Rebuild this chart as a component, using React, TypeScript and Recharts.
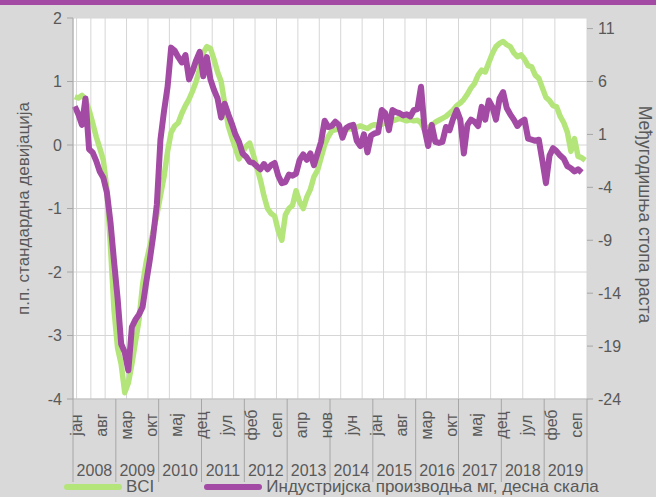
import React from 'react';
import { LineChart, Line, XAxis, YAxis, CartesianGrid, Legend } from 'recharts';

const YEARS = ['2008', '2009', '2010', '2011', '2012', '2013', '2014', '2015', '2016', '2017', '2018', '2019'];
const MONTH_NAMES = ['јан', 'феб', 'мар', 'апр', 'мај', 'јун', 'јул', 'авг', 'сеп', 'окт', 'нов', 'дец'];

// BCI, standard deviations (left axis), Jan 2008 - Dec 2019
const BCI = [
    0.76, 0.74, 0.78, 0.72, 0.55, 0.35, 0.13, -0.05, -0.24, -0.7, -1.6, -2.6,
    -3.2, -3.45, -3.9, -3.75, -3.45, -3.1, -2.75, -2.2, -1.85, -1.6, -1.35, -1.1,
    -0.8, -0.5, -0.1, 0.2, 0.3, 0.35, 0.5, 0.62, 0.72, 0.85, 1.0, 1.2,
    1.45, 1.55, 1.52, 1.35, 1.15, 1.0, 0.65, 0.3, 0.12, -0.05, -0.22, -0.12,
    -0.02, 0.03, -0.15, -0.35, -0.55, -0.8, -1.0, -1.08, -1.12, -1.35, -1.5, -1.1,
    -1.0, -0.95, -0.72, -0.9, -1.0, -0.82, -0.7, -0.5, -0.4, -0.2, 0.0, 0.13,
    0.22, 0.24, 0.25, 0.22, 0.24, 0.26, 0.24, 0.28, 0.3, 0.28, 0.26, 0.3,
    0.32, 0.3, 0.33, 0.35, 0.32, 0.38, 0.4, 0.42, 0.4, 0.38, 0.4, 0.38,
    0.39, 0.35, 0.24, 0.28, 0.3, 0.36, 0.39, 0.42, 0.45, 0.5, 0.55, 0.62,
    0.66, 0.72, 0.8, 0.9, 0.97, 1.1, 1.18, 1.15, 1.3, 1.44, 1.55, 1.6,
    1.63, 1.58, 1.55, 1.45, 1.39, 1.42, 1.35, 1.25, 1.23, 1.1, 1.05, 0.9,
    0.75, 0.7, 0.62, 0.6, 0.45, 0.35, 0.2, -0.1, 0.1, -0.18, -0.2, -0.24,
];

// industrial production y-o-y % (right axis), Jan 2008 - Nov 2019
const IP = [
    3.65, 2.9, 1.9, 4.4, -0.4, -0.7, -1.5, -2.5, -3.1, -4.5, -7.3, -11,
    -14.5, -18.8, -19.6, -21.3, -17.2, -16.5, -16.0, -15.3, -13, -10.9, -8.5, -5.6,
    0.5, 3.2, 5.5, 9.2, 8.9, 8.3, 7.8, 8.5, 6.2, 7.0, 8.0, 8.8,
    6.5, 8.3, 6.2, 5.2, 4.4, 2.6, 3.9, 2.9, 2.0, 1.0, 0.3, -0.8,
    -1.1, -1.6, -1.7, -2.0, -2.3, -1.8, -2.3, -1.9, -1.7, -2.9, -3.6, -3.5,
    -2.8, -2.9, -2.7, -1.4, -0.9, -1.4, -0.8, -1.9, -0.8, 0.3, 2.3, 1.7,
    1.8, 2.2, 1.9, 0.7, 1.6, 1.8, 1.9, 0.4, -0.1, 1.0, -0.7, 0.9,
    1.1, 1.2, 3.3, 3.0, 1.4, 3.3, 3.1, 3.0, 2.8, 2.9, 2.7, 3.3,
    3.4, 5.5, 1.5, -0.1, 1.9, 0.3, 0.2, 0.3, 1.7, 1.4, 2.5, 3.3,
    2.4, -0.8, 1.9, 2.4, 2.2, 1.8, 3.6, 2.4, 4.2, 3.6, 2.4, 4.4,
    5.0, 3.5, 2.9, 2.4, 1.8, 2.2, 2.4, 0.6, 0.5, 0.4, 0.5, -1.5,
    -3.6, -1.0, -0.3, -0.6, -1.0, -1.3, -2.0, -2.2, -2.5, -2.3, -2.6,
];

const LEFT_TICKS = [-4, -3, -2, -1, 0, 1, 2];
const RIGHT_TICKS = [-24, -19, -14, -9, -4, 1, 6, 11];

const TOTAL = YEARS.length * 12;
const data = BCI.map((v, i) => ({ t: i + 0.5, bci: v, ip: i < IP.length ? IP[i] : null }));

const gridTicks = Array.from({ length: TOTAL + 1 }, (_, i) => i);
const yearBounds = YEARS.map((_, i) => i * 12).concat(TOTAL);
const yearMids = YEARS.map((_, i) => i * 12 + 6);
const monthLabelTicks: number[] = [];
for (let i = 0; i < TOTAL; i += 7) monthLabelTicks.push(i + 0.5);
const xTicks = [...yearBounds, ...yearMids, ...monthLabelTicks];

const FONT = '"Liberation Sans", Arial, sans-serif';
const TEXT = '#595959';
const GREEN = '#b4e57a';
const PURPLE = '#a24aa4';

const XTick = (props: any) => {
    const { x, y, payload } = props;
    const v = payload.value;
    if (v % 12 === 0) {
        return <line x1={x} x2={x} y1={y} y2={y + 83} stroke="#a6a6a6" />;
    }
    if (v % 12 === 6) {
        return (
            <text x={x} y={y + 77} textAnchor="middle" fill={TEXT} fontSize={16} fontFamily={FONT}>
                {YEARS[Math.floor(v / 12)]}
            </text>
        );
    }
    const m = Math.floor(v) % 12;
    const cx = x + 2;
    const cy = y + 26;
    return (
        <text x={cx} y={cy} transform={`rotate(-90 ${cx} ${cy})`} textAnchor="middle" dominantBaseline="central"
            fill={TEXT} fontSize={16} fontFamily={FONT}>
            {MONTH_NAMES[m]}
        </text>
    );
};

const renderLegend = (props: any) => {
    const { payload } = props;
    return (
        <div style={{ display: 'flex', alignItems: 'center', fontFamily: FONT, fontSize: 17, color: TEXT }}>
            {payload.map((p: any) => (
                <div key={p.value} style={{ display: 'flex', alignItems: 'center', marginRight: 50 }}>
                    <svg width={58} height={8} style={{ marginRight: 4 }}>
                        <line x1={3} x2={55} y1={4} y2={4} stroke={p.color} strokeWidth={6} strokeLinecap="round" />
                    </svg>
                    <span>{p.value}</span>
                </div>
            ))}
        </div>
    );
};

const App = () => {
    return (
        <div style={{ position: 'absolute', top: 0, left: 0, width: 656, height: 497, background: '#d9d9d9', overflow: 'hidden' }}>
            <div style={{ position: 'absolute', top: 0, left: 0, width: 656, height: 5, background: PURPLE }} />
            <LineChart width={656} height={497} data={data} margin={{ top: 18, right: 0, bottom: 0, left: 0 }}>
                <XAxis
                    xAxisId="m"
                    type="number"
                    dataKey="t"
                    domain={[0, TOTAL]}
                    ticks={xTicks}
                    interval={0}
                    height={98}
                    tickSize={0}
                    tickMargin={0}
                    tickLine={false}
                    axisLine={{ stroke: '#bfbfbf' }}
                    tick={<XTick />}
                />
                <XAxis xAxisId="grid" type="number" dataKey="t" domain={[0, TOTAL]} ticks={gridTicks} height={0} hide />
                <CartesianGrid xAxisId="grid" yAxisId="left" stroke="#d6d6d6" fill="#ffffff" />
                <YAxis
                    yAxisId="left"
                    domain={[-4, 2]}
                    ticks={LEFT_TICKS}
                    width={73}
                    tickSize={6}
                    tickMargin={5}
                    tickLine={{ stroke: '#a6a6a6' }}
                    axisLine={{ stroke: '#a6a6a6' }}
                    tick={{ fill: TEXT, fontSize: 16, fontFamily: FONT }}
                    label={{
                        content: ({ viewBox }: any) => {
                            const cx = viewBox.x + 23;
                            const cy = viewBox.y + viewBox.height / 2;
                            return (
                                <text x={cx} y={cy} transform={`rotate(-90 ${cx} ${cy})`} textAnchor="middle" dominantBaseline="central"
                                    fill={TEXT} fontSize={17} fontFamily={FONT}>
                                    п.п. стандардна девијација
                                </text>
                            );
                        },
                    }}
                />
                <YAxis
                    yAxisId="right"
                    orientation="right"
                    domain={[-24, 12]}
                    ticks={RIGHT_TICKS}
                    width={69}
                    tickSize={6}
                    tickMargin={5}
                    tickLine={{ stroke: '#a6a6a6' }}
                    axisLine={false}
                    tick={{ fill: TEXT, fontSize: 16, fontFamily: FONT }}
                    label={{
                        content: ({ viewBox }: any) => {
                            const cx = viewBox.x + 58;
                            const cy = viewBox.y + viewBox.height / 2 + 6;
                            return (
                                <text x={cx} y={cy} transform={`rotate(90 ${cx} ${cy})`} textAnchor="middle" dominantBaseline="central"
                                    fill={TEXT} fontSize={17.5} fontFamily={FONT}>
                                    Међугодишња стопа раста
                                </text>
                            );
                        },
                    }}
                />
                <Line xAxisId="m" yAxisId="left" type="linear" dataKey="bci" name="BCI" stroke={GREEN} strokeWidth={5.5}
                    dot={false} activeDot={false} isAnimationActive={false} strokeLinejoin="round" />
                <Line xAxisId="m" yAxisId="right" type="linear" dataKey="ip" name="Индустријска производња мг, десна скала" stroke={PURPLE}
                    strokeWidth={6} dot={false} activeDot={false} isAnimationActive={false} connectNulls={false} strokeLinejoin="round" />
                <Legend verticalAlign="middle" align="center" content={renderLegend}
                    wrapperStyle={{ top: 477, left: 64, width: 600, height: 20 }} />
            </LineChart>
        </div>
    );
};

export default App;
